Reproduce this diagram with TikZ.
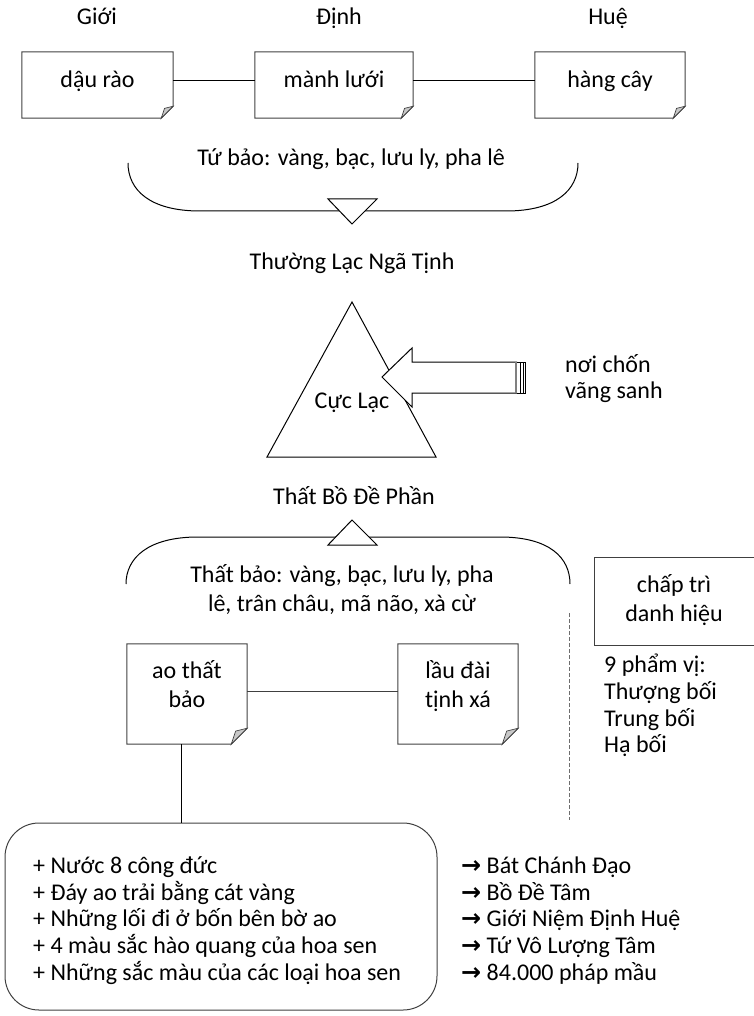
\documentclass[tikz,border=0pt]{standalone}
\usepackage{fontspec}
\setmainfont{Carlito}
\newfontfamily\symfont{DejaVu Sans}
\usetikzlibrary{calc}
\definecolor{foldgray}{RGB}{200,200,200}
\definecolor{darkline}{RGB}{64,64,64}
\definecolor{dashgray}{RGB}{110,110,110}
% uniform line struts so that node centres sit on the visual middle of the text
\newcommand\topstrut{\vrule height 22pt depth 0pt width 0pt\relax}
\newcommand\botstrut{\vrule height 0pt depth 7pt width 0pt\relax}
\newcommand\fixedlines{\lineskiplimit=-50pt\relax}
% folded-corner outline around an empty node: #1 node, #2 fold size, #3 colour
\newcommand\foldnote[3]{%
  \draw[#3, line width=1pt, line join=miter]
    (#1.north west) -- (#1.north east) -- ([yshift=#2pt]#1.south east)
    -- ([xshift=-#2pt]#1.south east) -- (#1.south west) -- cycle;
  \filldraw[#3, fill=foldgray, line width=0.7pt]
    ([xshift=-#2pt]#1.south east) -- ([yshift=#2pt]#1.south east)
    -- ([xshift=-0.72*#2pt, yshift=0.82*#2pt]#1.south east) -- cycle;
}
\begin{document}
\begin{tikzpicture}[x=1pt, y=-1pt,
  every node/.style={inner sep=0pt},
  txt/.style={font=\fontsize{24}{29}\selectfont\fixedlines,
    execute at begin node=\topstrut, execute at end node=\botstrut},
  lbl/.style={txt, align=center},
  lst/.style={txt, align=left, anchor=west,
    font=\fontsize{24}{26.7}\selectfont\fixedlines},
  notearea/.style={draw=none, minimum width=#1},
  link/.style={line width=1pt},
]
\useasboundingbox (0,0) rectangle (753,1016);

% ---- three ramparts of the Pure Land ----
\node[lbl] (tgioi) at (97,17)  {Giới};
\node[lbl] (tdinh) at (339,17) {Định};
\node[lbl] (thue)  at (608,17) {Huệ};

\node[notearea=151, minimum height=66] (dau)  at (97.5,85) {};
\node[notearea=158, minimum height=66] (manh) at (334,85)  {};
\node[notearea=150, minimum height=66] (hang) at (610,85)  {};
\foldnote{dau}{12}{darkline}
\foldnote{manh}{12}{darkline}
\foldnote{hang}{12}{darkline}
\node[lbl] (xdau)  at (97.5,80) {dậu rào};
\node[lbl] (xmanh) at (334,80)  {mành lưới};
\node[lbl] (xhang) at (610,80)  {hàng cây};
\draw[link] ([yshift=4pt]dau.east) -- ([yshift=4pt]manh.west);
\draw[link] ([yshift=4pt]manh.east) -- ([yshift=4pt]hang.west);

% ---- upper brace ----
\node[lbl] (tubao) at (351,158) {Tứ bảo: vàng, bạc, lưu ly, pha lê};
\draw[link] (128,163) .. controls (128,190) and (150,211) .. (200,211)
  -- (506,211) .. controls (556,211) and (578,190) .. (578,163);
\filldraw[link, fill=white] (328,199) -- (377,199) -- (352,224) -- cycle;
\node[lbl] (thuong) at (352,262) {Thường Lạc Ngã Tịnh};

% ---- triangle and the arrow of rebirth ----
\draw[link, line join=miter] (352,302) -- (267,457) -- (436,457) -- cycle;
\node[lbl] (cuclac) at (352,401) {Cực Lạc};
\filldraw[link, fill=white, line join=miter]
  (517,362) -- (412,362) -- (412,348) -- (382,377) -- (412,407) -- (412,393) -- (517,393);
\draw[gray, line width=2.4pt] (516,362) -- (516,393);
\draw[line width=0.7pt] (520.5,362) -- (520.5,393) (523,362) -- (523,393)
  (525.5,362) -- (525.5,393) (517,362) -- (525.5,362) (517,393) -- (525.5,393);
\node[lst] (vang) at (565,380) {nơi chốn\\vãng sanh};

% ---- lower bracket ----
\node[lbl] (thatbo) at (354,497) {Thất Bồ Đề Phần};
\draw[link] (126,584) .. controls (126,558) and (148,537) .. (198,537)
  -- (500,537) .. controls (550,537) and (570,558) .. (570,584);
\filldraw[link, fill=white] (328,545) -- (377,545) -- (352,520) -- cycle;
\node[lbl] (thatbao) at (342,591) {Thất bảo: vàng, bạc, lưu ly, pha\\lê, trân châu, mã não, xà cừ};

% ---- right column ----
\draw[dashgray, line width=0.8pt, dash pattern=on 4pt off 2pt] (569,613) -- (569,820);
\node[draw=darkline, line width=1pt, minimum width=160, minimum height=88] (chap) at (674,601) {};
\node[lbl] (xchap) at (674,601) {chấp trì\\danh hiệu};
\node[lst] (pham) at (604,707) {9 phẩm vị:\\Thượng bối\\Trung bối\\Hạ bối};

% ---- pond and pavilions ----
\node[notearea=120, minimum height=100] (ao)  at (187,694) {};
\node[notearea=120, minimum height=100] (lau) at (458,694) {};
\foldnote{ao}{16}{darkline}
\foldnote{lau}{16}{darkline}
\node[lbl] (xao)  at (187,687) {ao thất\\bảo};
\node[lbl] (xlau) at (458,687) {lầu đài\\tịnh xá};
\draw[darkline, link] ([yshift=3pt]ao.east) -- ([yshift=3pt]lau.west);

\node[draw=darkline, line width=1pt, rounded corners=34pt, minimum width=432, minimum height=187] (pond) at (221,916.5) {};
\draw[link] ([xshift=-6pt]ao.south) -- ([xshift=-6pt]ao.south |- pond.north);
\node[lst] (dac) at (33,922) {+ Nước 8 công đức\\+ Đáy ao trải bằng cát vàng\\+ Những lối đi ở bốn bên bờ ao\\+ 4 màu sắc hào quang của hoa sen\\+ Những sắc màu của các loại hoa sen};
\node[lst] (nghia) at (461,922) {{\symfont\bfseries→} Bát Chánh Đạo\\{\symfont\bfseries→} Bồ Đề Tâm\\{\symfont\bfseries→} Giới Niệm Định Huệ\\{\symfont\bfseries→} Tứ Vô Lượng Tâm\\{\symfont\bfseries→} 84.000 pháp mầu};
\end{tikzpicture}
\end{document}
